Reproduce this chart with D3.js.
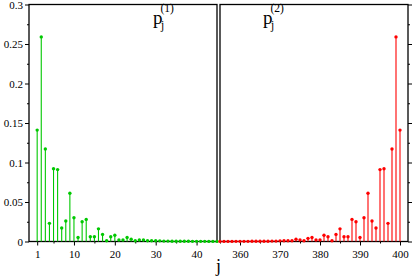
<!DOCTYPE html>
<html>
<head>
<meta charset="utf-8">
<script src="https://cdn.jsdelivr.net/npm/d3@7"></script>
<style>
  body { margin: 0; background: #fff; }
  text { font-family: "Liberation Serif", "DejaVu Serif", serif; fill: #000; }
</style>
</head>
<body>
<svg id="chart" width="415" height="277"></svg>
<script>
// left panel: p_j^(1), j = 1..45
const jLeft = [1, 2, 3, 4, 5, 6, 7, 8, 9, 10, 11, 12, 13, 14, 15, 16, 17, 18, 19, 20,
    21, 22, 23, 24, 25, 26, 27, 28, 29, 30, 31, 32, 33, 34, 35, 36, 37, 38, 39, 40,
    41, 42, 43, 44, 45]
const p1 = [0.141, 0.259, 0.117, 0.023, 0.092, 0.091, 0.017, 0.026, 0.061, 0.030,
    0.005, 0.025, 0.028, 0.006, 0.006, 0.016, 0.009, 0.001, 0.006, 0.008,
    0.002, 0.002, 0.005, 0.003, 0.001, 0.002, 0.002, 0.001, 0.001, 0.001,
    0.0008, 0.0005, 0.0005, 0.0004, 0.0004, 0.0003, 0.0003, 0.0003, 0.0002, 0.0002,
    0.0002, 0.0002, 0.0001, 0.0001, 0.0001]

// right panel: p_j^(2), j = 355..400
const jRight = [355, 356, 357, 358, 359, 360, 361, 362, 363, 364, 365, 366, 367, 368, 369, 370,
    371, 372, 373, 374, 375, 376, 377, 378, 379, 380, 381, 382, 383, 384, 385, 386, 387, 388,
    389, 390, 391, 392, 393, 394, 395, 396, 397, 398, 399, 400]
const p2 = [0.0001, 0.0001, 0.0001, 0.0001, 0.0002, 0.0002, 0.0002, 0.0002, 0.0003, 0.0003,
    0.0003, 0.0004, 0.0004, 0.0005, 0.0005, 0.0008, 0.001, 0.001, 0.001, 0.003,
    0.002, 0.001, 0.004, 0.005, 0.002, 0.002, 0.008, 0.006, 0.001, 0.009,
    0.016, 0.006, 0.006, 0.028, 0.025, 0.005, 0.030, 0.061, 0.026, 0.017,
    0.091, 0.092, 0.023, 0.117, 0.259, 0.141]

// ticks
const yMajor = [0, 0.05, 0.1, 0.15, 0.2, 0.25, 0.3]
const yMinor = [0.025, 0.075, 0.125, 0.175, 0.225, 0.275]
const xMajorLeft = [1, 10, 20, 30, 40]
const xMinorLeft = [5, 15, 25, 35]
const xMajorRight = [360, 370, 380, 390, 400]
const xMinorRight = [355, 365, 375, 385, 395]

const plotTop = 4.5, plotBottom = 241.5
const green = '#00c800', red = '#ff0000'

const svg = d3.select('#chart')

const y = d3.scaleLinear().domain([0, 0.3]).range([plotBottom, plotTop])
const xL = d3.scaleLinear().domain([-1, 45]).range([29, 217])
const xR = d3.scaleLinear().domain([355, 402]).range([220, 408])

function panel(x, js, vals, color, major, minor, side) {
    const g = svg.append('g')

    // bottom axis
    const ax = g.append('g').attr('transform', `translate(0,${plotBottom})`)
    ax.call(d3.axisBottom(x).tickValues(major).tickSize(4).tickPadding(5).tickFormat(d => d))
    ax.append('g').call(d3.axisBottom(x).tickValues(minor).tickSize(2).tickFormat(''))
    ax.selectAll('.domain').remove()
    ax.selectAll('text').style('font-size', '11px').style('font-family', '"Liberation Serif", serif')

    // y axis (left for panel 1, right for panel 2)
    const xPos = side === 'left' ? x.range()[0] : x.range()[1]
    const axisFn = side === 'left' ? d3.axisLeft : d3.axisRight
    const ay = g.append('g').attr('transform', `translate(${xPos},0)`)
    ay.call(axisFn(y).tickValues(yMajor).tickSize(4).tickPadding(2)
        .tickFormat(side === 'left' ? (d => d) : ''))
    ay.append('g').call(axisFn(y).tickValues(yMinor).tickSize(2).tickFormat(''))
    ay.selectAll('.domain').remove()
    ay.selectAll('text').style('font-size', '11px').style('font-family', '"Liberation Serif", serif')

    // frame
    g.append('rect')
        .attr('x', x.range()[0]).attr('y', plotTop)
        .attr('width', x.range()[1] - x.range()[0]).attr('height', plotBottom - plotTop)
        .attr('fill', 'none').attr('stroke', '#000').attr('stroke-width', 1.3)

    const pts = js.map((j, i) => ({ j: j, v: vals[i] }))

    g.append('g').selectAll('line')
        .data(pts).join('line')
        .attr('x1', d => x(d.j)).attr('x2', d => x(d.j))
        .attr('y1', y(0)).attr('y2', d => y(d.v))
        .attr('stroke', color).attr('stroke-width', 1.1)

    g.append('g').selectAll('circle')
        .data(pts).join('circle')
        .attr('cx', d => x(d.j)).attr('cy', d => y(d.v))
        .attr('r', 1.7).attr('fill', color)
}

panel(xL, jLeft, p1, green, xMajorLeft, xMinorLeft, 'left')
panel(xR, jRight, p2, red, xMajorRight, xMinorRight, 'right')

// panel titles p_j^(n)
function title(x0, n) {
    svg.append('text').attr('x', x0).attr('y', 24).style('font-size', '19px').text('p')
    svg.append('text').attr('x', x0 + 8).attr('y', 29).style('font-size', '11.5px').text('j')
    svg.append('text').attr('x', x0 + 7.5).attr('y', 12).style('font-size', '11.5px').text(`(${n})`)
}
title(153, 1)
title(263, 2)

// x label
svg.append('text')
    .attr('x', 218.5).attr('y', 272)
    .attr('text-anchor', 'middle')
    .style('font-size', '18px')
    .text('j')
</script>
</body>
</html>
